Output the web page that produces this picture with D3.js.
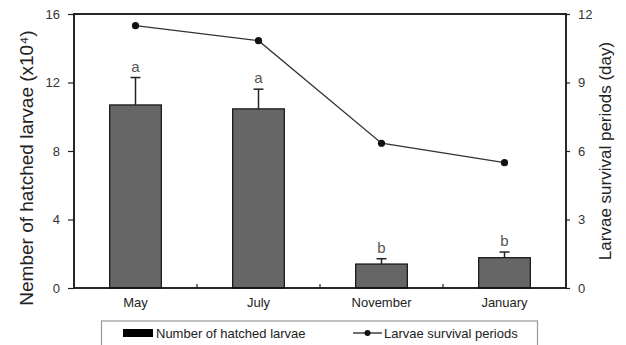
<!DOCTYPE html>
<html>
<head>
<meta charset="utf-8">
<script src="https://cdn.jsdelivr.net/npm/d3@7"></script>
<style>
  body { margin: 0; background: #fff; }
  text { font-family: Arial, "Liberation Sans", sans-serif; }
</style>
</head>
<body>
<svg id="chart" width="626" height="345"></svg>
<script>
const months = ['May', 'July', 'November', 'January']
const hatched = [10.69, 10.46, 1.40, 1.77]
const hatchedSd = [1.6, 1.15, 0.31, 0.33]
const letters = ['a', 'a', 'b', 'b']
const survival = [11.49, 10.83, 6.34, 5.49]
const leftTicks = [0, 4, 8, 12, 16]
const rightTicks = [0, 3, 6, 9, 12]

const MARGIN = { top: 14, right: 60, bottom: 57, left: 74 }
const width = 626, height = 345
const boundedWidth = width - MARGIN.left - MARGIN.right
const boundedHeight = height - MARGIN.top - MARGIN.bottom

const $svg = d3.select('#chart')
const $g = $svg.append('g')
  .attr('transform', `translate(${MARGIN.left}, ${MARGIN.top})`)

const xScale = d3.scaleBand()
  .domain(months)
  .range([0, boundedWidth])
  .paddingInner(0.58)
  .paddingOuter(0.29)
const xBand = d3.scaleBand().domain(months).range([0, boundedWidth])
const yLeft = d3.scaleLinear().domain([0, 16]).range([boundedHeight, 0])
const yRight = d3.scaleLinear().domain([0, 12]).range([boundedHeight, 0])

const rows = months.map((m, i) => ({
  month: m, value: hatched[i], sd: hatchedSd[i], letter: letters[i], days: survival[i]
}))

// bars
$g.selectAll('.bar')
  .data(rows)
  .enter()
  .append('rect')
    .attr('class', 'bar')
    .attr('x', d => xScale(d.month))
    .attr('y', d => yLeft(d.value))
    .attr('width', xScale.bandwidth())
    .attr('height', d => yLeft(0) - yLeft(d.value))
    .attr('fill', '#666')
    .attr('stroke', '#111')
    .attr('stroke-width', 1.2)

// error bars (upper only)
const cx = d => xScale(d.month) + xScale.bandwidth() / 2
const $err = $g.selectAll('.err').data(rows).enter().append('g').attr('class', 'err')
$err.append('line')
  .attr('x1', cx).attr('x2', cx)
  .attr('y1', d => yLeft(d.value)).attr('y2', d => yLeft(d.value + d.sd))
  .attr('stroke', '#222').attr('stroke-width', 1.5)
$err.append('line')
  .attr('x1', d => cx(d) - 5).attr('x2', d => cx(d) + 5)
  .attr('y1', d => yLeft(d.value + d.sd)).attr('y2', d => yLeft(d.value + d.sd))
  .attr('stroke', '#222').attr('stroke-width', 1.5)

$g.selectAll('.letter')
  .data(rows)
  .enter()
  .append('text')
    .attr('class', 'letter')
    .attr('x', cx)
    .attr('y', d => yLeft(d.value + d.sd) - 6)
    .attr('text-anchor', 'middle')
    .attr('font-size', 15)
    .attr('fill', '#555')
    .text(d => d.letter)

// axes
const axisLeft = d3.axisLeft(yLeft).tickValues(leftTicks).tickSize(6).tickPadding(8)
const axisRight = d3.axisRight(yRight).tickValues(rightTicks).tickSize(4).tickPadding(8)

const $yl = $g.append('g').call(axisLeft)
const $yr = $g.append('g').attr('transform', `translate(${boundedWidth},0)`).call(axisRight)
;[$yl, $yr].forEach($a => {
  $a.select('.domain').remove()
  $a.selectAll('.tick line').attr('stroke', '#222').attr('stroke-width', 1.2)
  $a.selectAll('.tick text').attr('font-size', 13).attr('fill', '#333')
    .attr('font-family', 'Arial, "Liberation Sans", sans-serif')
})

// x axis inner ticks at band boundaries
$g.selectAll('.xtick')
  .data(months.slice(1))
  .enter()
  .append('line')
    .attr('x1', d => xBand(d)).attr('x2', d => xBand(d))
    .attr('y1', boundedHeight).attr('y2', boundedHeight - 4)
    .attr('stroke', '#222').attr('stroke-width', 1.2)

$g.selectAll('.xlabel')
  .data(months)
  .enter()
  .append('text')
    .attr('x', d => xScale(d) + xScale.bandwidth() / 2)
    .attr('y', boundedHeight + 19)
    .attr('text-anchor', 'middle')
    .attr('font-size', 13)
    .attr('fill', '#222')
    .text(d => d)

// frame
$g.append('rect')
  .attr('width', boundedWidth).attr('height', boundedHeight)
  .attr('fill', 'none').attr('stroke', '#111').attr('stroke-width', 1.8)

// survival line
const line = d3.line().x(cx).y(d => yRight(d.days))
$g.append('path')
  .datum(rows)
  .attr('d', line)
  .attr('fill', 'none')
  .attr('stroke', '#333')
  .attr('stroke-width', 1.3)
$g.selectAll('.dot')
  .data(rows)
  .enter()
  .append('circle')
    .attr('cx', cx).attr('cy', d => yRight(d.days))
    .attr('r', 3.6).attr('fill', '#111')

// axis titles
$svg.append('text')
  .attr('transform', 'translate(33, 168) rotate(-90)')
  .attr('text-anchor', 'middle')
  .attr('font-size', 19)
  .attr('fill', '#222')
  .text('Nember of hatched larvae (x10⁴)')
$svg.append('text')
  .attr('transform', 'translate(611, 151) rotate(-90)')
  .attr('text-anchor', 'middle')
  .attr('font-size', 17)
  .attr('fill', '#222')
  .text('Larvae survival periods (day)')

// legend
const $lg = $svg.append('g')
$lg.append('rect')
  .attr('x', 101.5).attr('y', 321).attr('width', 436).attr('height', 30)
  .attr('fill', '#fff').attr('stroke', '#999').attr('stroke-width', 1.2)
$lg.append('rect')
  .attr('x', 123).attr('y', 329).attr('width', 30).attr('height', 8)
  .attr('fill', '#000')
$lg.append('text')
  .attr('x', 156).attr('y', 338).attr('font-size', 13).attr('fill', '#222')
  .text('Number of hatched larvae')
$lg.append('line')
  .attr('x1', 353).attr('x2', 382).attr('y1', 333).attr('y2', 333)
  .attr('stroke', '#222').attr('stroke-width', 1.3)
$lg.append('circle')
  .attr('cx', 367.5).attr('cy', 333).attr('r', 3).attr('fill', '#111')
$lg.append('text')
  .attr('x', 384).attr('y', 338).attr('font-size', 13).attr('fill', '#222')
  .text('Larvae survival periods')
</script>
</body>
</html>
